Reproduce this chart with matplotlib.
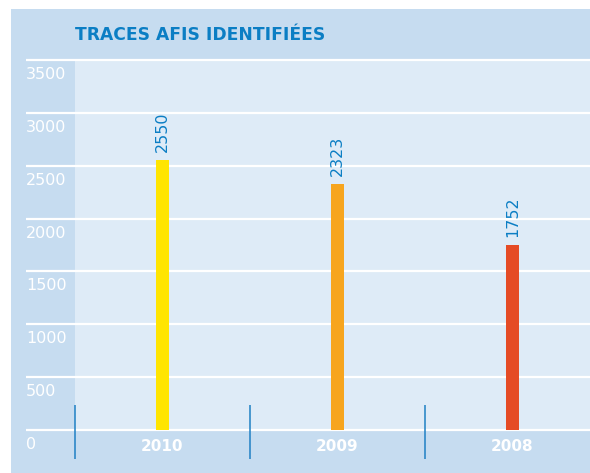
import matplotlib
matplotlib.use("Agg")
import matplotlib.pyplot as plt
from matplotlib.patches import Rectangle

# data
years = ['2010', '2009', '2008']
values = [2550, 2323, 1752]
bar_colors = ['#ffe500', '#f7a51e', '#e54b25']
yticks = [0, 500, 1000, 1500, 2000, 2500, 3000, 3500]
title = 'TRACES AFIS IDENTIFIÉES'

frame_col = '#c6dcf0'
inner_col = '#deebf7'
blue = '#0b7ec4'

W, H = 590, 473
fig = plt.figure(figsize=(W / 100, H / 100), dpi=100)
fig.patch.set_facecolor('white')

# outer light-blue frame (behind the axes)
fig.patches.append(Rectangle((11 / W, 0), 1 - 11 / W, (H - 9) / H,
                             transform=fig.transFigure, facecolor=frame_col,
                             edgecolor='none', zorder=-5))

ax = fig.add_axes([75 / W, (H - 430) / H, 515 / W, 370 / H])
ax.set_facecolor(inner_col)
ax.set_xlim(-0.5, 2.443)
ax.set_ylim(0, 3500)
for s in ax.spines.values():
    s.set_visible(False)
ax.set_xticks([])
ax.set_yticks([])

# white gridlines running into the left strip
ytrans = ax.get_yaxis_transform()
ax.hlines(yticks, -49 / 515, 1, transform=ytrans, colors='white',
          linewidth=1.6, clip_on=False, zorder=1)

# y labels sit just under each gridline
for v in yticks:
    ax.annotate(str(v), xy=(-49 / 515, v), xycoords=ytrans,
                xytext=(0, -7), textcoords='offset pixels',
                ha='left', va='top', color='white', fontsize=11.5,
                annotation_clip=False)

x = list(range(len(years)))
ax.bar(x, values, width=13 / 175, color=bar_colors, zorder=2)

for xi, v in zip(x, values):
    ax.annotate(str(v), xy=(xi, v), xytext=(0, 8), textcoords='offset pixels',
                rotation=90, ha='center', va='bottom', color=blue,
                fontsize=11.5)

# year labels in the bottom strip
for xi, yr in zip(x, years):
    ax.annotate(yr, xy=(xi, 0), xytext=(0, -16), textcoords='offset pixels',
                ha='center', va='center', color='white', fontsize=11,
                fontweight='bold', annotation_clip=False)

# small blue separators between categories
ax.vlines([-0.5, 0.5, 1.5], -29 / 370 * 3500, 25 / 370 * 3500,
          colors='#1f80c4', linewidth=1.1, clip_on=False, zorder=3)

fig.text(75 / W, 1 - 35 / H, title, color=blue, fontsize=12.3,
         fontweight='bold', ha='left', va='center')

fig.savefig('out.png', dpi=100, facecolor=fig.get_facecolor())
